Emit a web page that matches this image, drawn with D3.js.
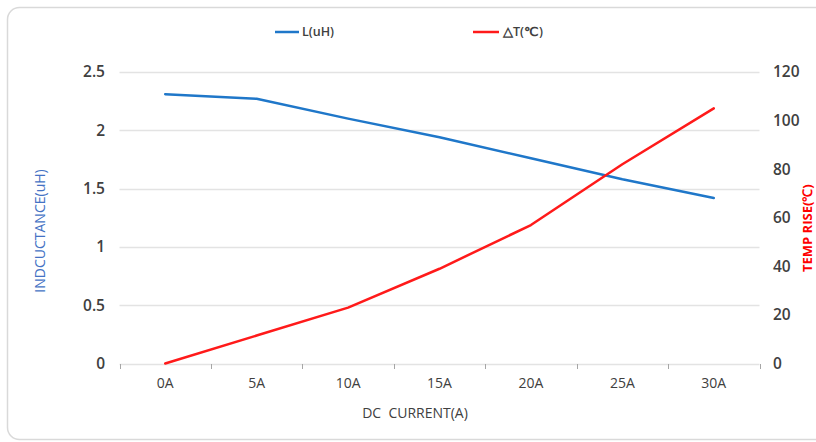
<!DOCTYPE html>
<html><head><meta charset="utf-8">
<script src="https://cdn.jsdelivr.net/npm/d3@7"></script>
<style>body{margin:0;background:#fff;} svg{display:block;}</style>
</head><body>
<script>
const categories = ["0A","5A","10A","15A","20A","25A","30A"];
const inductance = [2.31, 2.27, 2.10, 1.94, 1.76, 1.58, 1.42];
const tempRise = [0, 11.5, 23, 39, 57, 82, 105];
const leftTicks = [0, 0.5, 1, 1.5, 2, 2.5];
const rightTicks = [0, 20, 40, 60, 80, 100, 120];

const W = 816, H = 442;
const font = "'Open Sans', 'Liberation Sans', sans-serif";
const svg = d3.select("body").append("svg").attr("width", W).attr("height", H);

svg.append("rect").attr("x", 7.5).attr("y", 7.5).attr("width", 830).attr("height", 432)
  .attr("rx", 12).attr("fill", "#fff").attr("stroke", "#d9d9d9").attr("stroke-width", 1.5);

const x = d3.scaleBand().domain(categories).range([119.5, 759.5]);
const yL = d3.scaleLinear().domain([0, 2.5]).range([363.5, 72]);
const yR = d3.scaleLinear().domain([0, 120]).range([363.5, 72]);

// gridlines
svg.append("g").selectAll("line").data(leftTicks).join("line")
  .attr("x1", 119.5).attr("x2", 759.5)
  .attr("y1", d => Math.round(yL(d)) + 0.5).attr("y2", d => Math.round(yL(d)) + 0.5)
  .attr("stroke", "#e3e3e3").attr("stroke-width", 1.5);

// left axis labels
svg.append("g").selectAll("text").data(leftTicks).join("text")
  .attr("x", 105).attr("y", d => yL(d)).attr("dy", "0.35em")
  .attr("text-anchor", "end").attr("font-family", font).attr("font-size", 15.5).attr("font-weight", 600)
  .attr("fill", "#404040").text(d => d);

// right axis labels
svg.append("g").selectAll("text").data(rightTicks).join("text")
  .attr("x", 773).attr("y", d => yR(d)).attr("dy", "0.35em")
  .attr("text-anchor", "start").attr("font-family", font).attr("font-size", 15.5).attr("font-weight", 600)
  .attr("fill", "#404040").text(d => d);

// x axis
const xAxis = d3.axisBottom(x).tickSize(0).tickPadding(0);
const gx = svg.append("g").attr("transform", "translate(0,364)").call(xAxis);
gx.select(".domain").remove();
gx.selectAll("text").attr("font-family", font).attr("font-size", 14)
  .attr("fill", "#404040").attr("dy", null).attr("y", 24);
const bounds = categories.map(c => x(c)).concat([x(categories[categories.length-1]) + x.bandwidth()]);
svg.append("g").selectAll("line").data(bounds).join("line")
  .attr("x1", d => Math.round(d) + 0.5).attr("x2", d => Math.round(d) + 0.5)
  .attr("y1", 364).attr("y2", 369).attr("stroke", "#a6a6a6").attr("stroke-width", 1);

// lines
const lineL = d3.line().x((d, i) => x(categories[i]) + x.bandwidth() / 2).y(d => yL(d));
const lineR = d3.line().x((d, i) => x(categories[i]) + x.bandwidth() / 2).y(d => yR(d));
svg.append("path").attr("d", lineL(inductance)).attr("fill", "none")
  .attr("stroke", "#1F77C9").attr("stroke-width", 2.5).attr("stroke-linejoin", "round").attr("stroke-linecap", "round");
svg.append("path").attr("d", lineR(tempRise)).attr("fill", "none")
  .attr("stroke", "#FF1A1A").attr("stroke-width", 2.5).attr("stroke-linejoin", "round").attr("stroke-linecap", "round");

// axis titles
svg.append("text").attr("transform", "translate(45,231) rotate(-90)")
  .attr("text-anchor", "middle").attr("font-family", font).attr("font-size", 14)
  .attr("fill", "#4472C4").text("INDCUCTANCE(uH)");
svg.append("text").attr("transform", "translate(812,272) rotate(-90)")
  .attr("text-anchor", "start").attr("font-family", font).attr("font-size", 13).attr("font-weight", "bold")
  .attr("fill", "#FF0000").text("TEMP RISE(℃)");
svg.append("text").attr("x", 415).attr("y", 418).attr("text-anchor", "middle")
  .attr("font-family", font).attr("font-size", 14).attr("fill", "#404040")
  .style("white-space", "pre").text("DC  CURRENT(A)");

// legend
const legend = [
  {label: "L(uH)", color: "#1F77C9", x1: 275, x2: 299, tx: 302},
  {label: "△T(℃)", color: "#FF1A1A", x1: 473, x2: 499, tx: 503}
];
const lg = svg.append("g");
legend.forEach(l => {
  lg.append("line").attr("x1", l.x1).attr("x2", l.x2).attr("y1", 32).attr("y2", 32)
    .attr("stroke", l.color).attr("stroke-width", 2.5);
  lg.append("text").attr("x", l.tx).attr("y", 32).attr("dy", "0.35em")
    .attr("font-family", font).attr("font-size", 12.5).attr("font-weight", 600).attr("fill", "#404040").text(l.label);
});
</script>
</body></html>
